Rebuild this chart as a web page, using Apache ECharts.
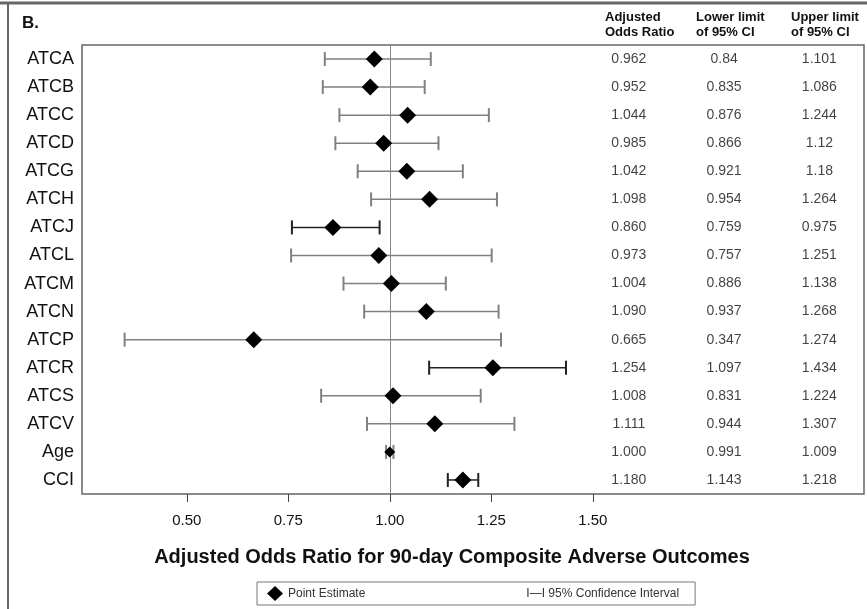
<!DOCTYPE html>
<html><head><meta charset="utf-8">
<script src="https://cdn.jsdelivr.net/npm/echarts@6/dist/echarts.min.js"></script>
<style>html,body{margin:0;padding:0;background:#fff}#c{width:867px;height:609px}</style>
</head><body><div id="c"></div>
<script>
const categories = ['ATCA','ATCB','ATCC','ATCD','ATCG','ATCH','ATCJ','ATCL','ATCM','ATCN','ATCP','ATCR','ATCS','ATCV','Age','CCI'];
const oddsRatio = [0.962,0.952,1.044,0.985,1.042,1.098,0.860,0.973,1.004,1.090,0.665,1.254,1.008,1.111,1.000,1.180];
const lowerCI = [0.84,0.835,0.876,0.866,0.921,0.954,0.759,0.757,0.886,0.937,0.347,1.097,0.831,0.944,0.991,1.143];
const upperCI = [1.101,1.086,1.244,1.12,1.18,1.264,0.975,1.251,1.138,1.268,1.274,1.434,1.224,1.307,1.009,1.218];
const xTicks = [0.5,0.75,1.0,1.25,1.5];
const tableHeaders = ['Adjusted\nOdds Ratio','Lower limit\nof 95% CI','Upper limit\nof 95% CI'];
const panelLabel = 'B.';
const axisTitle = 'Adjusted Odds Ratio for 90-day Composite Adverse Outcomes';
const legendNames = ['Point Estimate','95% Confidence Interval'];

const FONT = "'Liberation Sans', Arial, sans-serif";
const NARROW = "'Liberation Sans Narrow', 'Liberation Sans', Arial, sans-serif";
const chart = echarts.init(document.getElementById('c'), null, {renderer:'canvas'});

const ciData = categories.map((c,i)=>[lowerCI[i], upperCI[i], i, (lowerCI[i] > 1 || upperCI[i] < 1) ? 1 : 0]);
const pointData = categories.map((c,i)=>({name:c, value:[oddsRatio[i], i]}));
const tableCols = [oddsRatio.map(v=>v.toFixed(3)), lowerCI.map(String), upperCI.map(String)];
const tableData = [];
tableCols.forEach((col,ci)=>col.forEach((s,r)=>tableData.push({name:s, value:[ci, r]})));

const headerX = [605, 696, 791];

const option = {
  animation:false,
  backgroundColor:'#fff',
  title:{text:axisTitle, left:447, top:542, textAlign:'center',
    textStyle:{fontSize:20, fontWeight:'bold', color:'#111', fontFamily:FONT}},
  grid:[
    {left:82, right:3, top:45, bottom:115, show:true, borderColor:'#666', borderWidth:1.5, backgroundColor:'transparent'},
    {left:581.25, width:292.5, top:45, bottom:115}
  ],
  xAxis:[
    {type:'value', gridIndex:0, min:0.242, max:2.168,
      axisLine:{show:false}, splitLine:{show:false},
      axisTick:{show:true, customValues:xTicks, length:8, lineStyle:{color:'#444', width:1}},
      axisLabel:{customValues:xTicks, formatter:v=>v.toFixed(2), margin:19, fontSize:15, color:'#111', fontFamily:NARROW}},
    {type:'category', gridIndex:1, data:['c0','c1','c2'], show:false}
  ],
  yAxis:[
    {type:'category', gridIndex:0, inverse:true, data:categories,
      axisLine:{show:false}, axisTick:{show:false}, splitLine:{show:false},
      axisLabel:{fontSize:18, color:'#111', margin:8, fontFamily:FONT}},
    {type:'category', gridIndex:1, inverse:true, data:categories, show:false}
  ],
  legend:{left:257, top:582, orient:'horizontal', itemGap:140, itemWidth:16, itemHeight:15,
    padding:[4,16,4,10], borderColor:'#777', borderWidth:1, backgroundColor:'#fff',
    selectedMode:false,
    textStyle:{fontSize:12, color:'#333', fontFamily:FONT},
    data:[{name:legendNames[0], icon:'diamond'}, {name:legendNames[1], icon:'none'}],
    formatter:n => n === legendNames[1] ? 'I\u2014I ' + n : n},
  series:[
    {type:'custom', name:legendNames[1], xAxisIndex:0, yAxisIndex:0, data:ciData,
      encode:{x:[0,1], y:2}, itemStyle:{color:'#555'}, z:2,
      renderItem:(params, api)=>{
        const lo = api.coord([api.value(0), api.value(2)]);
        const hi = api.coord([api.value(1), api.value(2)]);
        const color = api.value(3) ? '#222' : '#808080';
        const h = 7;
        return {type:'group', children:[
          {type:'line', shape:{x1:lo[0], y1:lo[1], x2:hi[0], y2:hi[1]}, style:{stroke:color, lineWidth:1.5}},
          {type:'line', shape:{x1:lo[0], y1:lo[1]-h, x2:lo[0], y2:lo[1]+h}, style:{stroke:color, lineWidth:2}},
          {type:'line', shape:{x1:hi[0], y1:hi[1]-h, x2:hi[0], y2:hi[1]+h}, style:{stroke:color, lineWidth:2}}
        ]};
      }},
    {type:'scatter', name:legendNames[0], xAxisIndex:0, yAxisIndex:0, data:pointData,
      symbol:'diamond', symbolSize:(v,p)=> p.name === 'Age' ? 11 : 17,
      itemStyle:{color:'#000', opacity:1}, z:5,
      markLine:{silent:true, symbol:'none', label:{show:false},
        lineStyle:{color:'#888', width:1, type:'solid'}, data:[{xAxis:1}]}},
    {type:'scatter', xAxisIndex:1, yAxisIndex:1, data:tableData, symbolSize:0, silent:true,
      label:{show:true, position:'inside', formatter:'{b}', fontSize:14, color:'#111', fontFamily:FONT}}
  ],
  graphic:[
    {type:'line', shape:{x1:0, y1:3, x2:867, y2:3}, style:{stroke:'#666', lineWidth:3}, silent:true},
    {type:'line', shape:{x1:8, y1:3, x2:8, y2:609}, style:{stroke:'#666', lineWidth:2}, silent:true},
    {type:'text', x:22, y:15, style:{text:panelLabel, font:"bold 17px 'Liberation Sans', Arial, sans-serif", fill:'#111'}},
    ...tableHeaders.map((t,i)=>({type:'text', x:headerX[i], y:10,
      style:{text:t, font:"bold 13px 'Liberation Sans', Arial, sans-serif", fill:'#111', lineHeight:15}}))
  ]
};
chart.setOption(option);
</script></body></html>
